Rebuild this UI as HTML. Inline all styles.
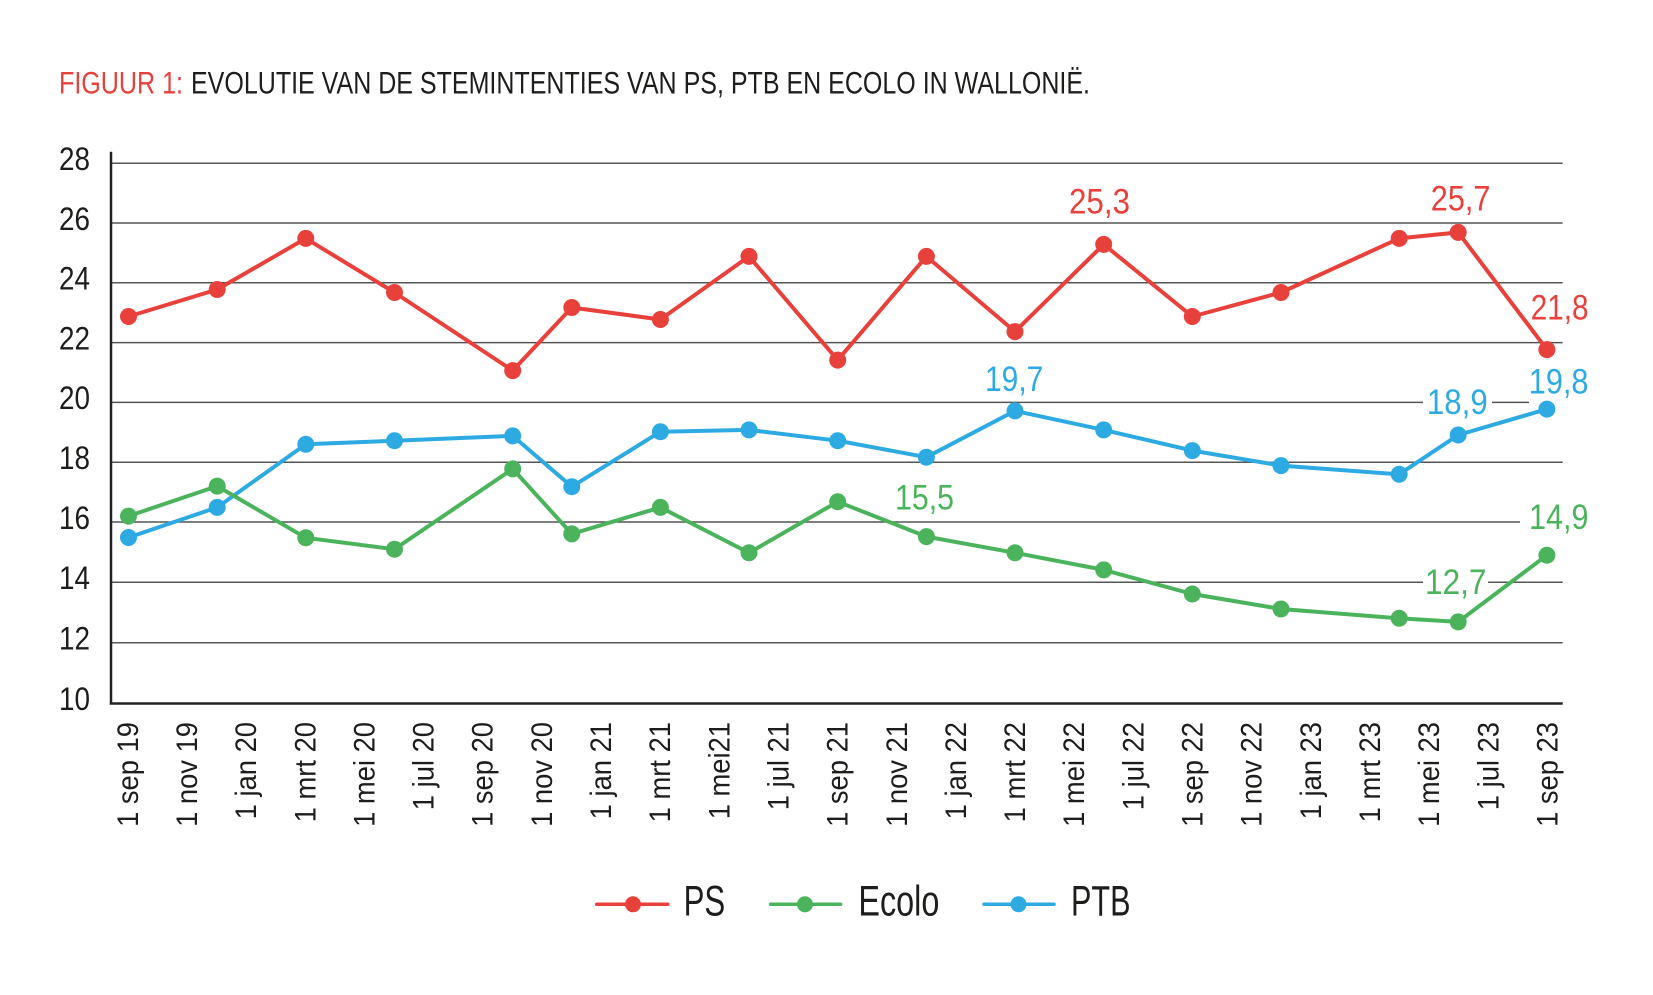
<!DOCTYPE html>
<html>
<head>
<meta charset="utf-8">
<style>
html,body{margin:0;padding:0;background:#fff;}
svg{display:block;}
text{font-family:"Liberation Sans",sans-serif;}
</style>
</head>
<body>
<svg width="1653" height="995" viewBox="0 0 1653 995" xmlns="http://www.w3.org/2000/svg">
<rect x="0" y="0" width="1653" height="995" fill="#fff"/>

<!-- Title -->
<text x="59" y="93.3" font-size="31.7" fill="#E8413B" textLength="124" lengthAdjust="spacingAndGlyphs">FIGUUR 1:</text>
<text x="191" y="93.3" font-size="31.7" fill="#1d1d1b" textLength="899" lengthAdjust="spacingAndGlyphs">EVOLUTIE VAN DE STEMINTENTIES VAN PS, PTB EN ECOLO IN WALLONIË.</text>

<!-- Gridlines -->
<g stroke="#555" stroke-width="1.5" fill="none">
<line x1="111" y1="163.3" x2="1562.7" y2="163.3"/>
<line x1="111" y1="223" x2="1562.7" y2="223"/>
<line x1="111" y1="282.8" x2="1562.7" y2="282.8"/>
<line x1="111" y1="342.6" x2="1562.7" y2="342.6"/>
<line x1="111" y1="402.4" x2="1423" y2="402.4"/>
<line x1="1492" y1="402.4" x2="1529" y2="402.4"/>
<line x1="111" y1="462.2" x2="1562.7" y2="462.2"/>
<line x1="111" y1="522" x2="1520" y2="522"/>
<line x1="111" y1="582.2" x2="1423" y2="582.2"/>
<line x1="1488" y1="582.2" x2="1562.7" y2="582.2"/>
<line x1="111" y1="642.7" x2="1562.7" y2="642.7"/>
</g>

<!-- Axes -->
<line x1="111" y1="151.7" x2="111" y2="704.5" stroke="#222" stroke-width="2.5"/>
<line x1="109.8" y1="703.5" x2="1562.7" y2="703.5" stroke="#222" stroke-width="2.5"/>

<!-- Y tick labels -->
<g font-size="32.5" fill="#1d1d1b" text-anchor="end">
<text x="90" y="170.1" textLength="31" lengthAdjust="spacingAndGlyphs">28</text>
<text x="90" y="229.8" textLength="31" lengthAdjust="spacingAndGlyphs">26</text>
<text x="90" y="289.6" textLength="31" lengthAdjust="spacingAndGlyphs">24</text>
<text x="90" y="349.4" textLength="31" lengthAdjust="spacingAndGlyphs">22</text>
<text x="90" y="409.2" textLength="31" lengthAdjust="spacingAndGlyphs">20</text>
<text x="90" y="469" textLength="31" lengthAdjust="spacingAndGlyphs">18</text>
<text x="90" y="528.8" textLength="31" lengthAdjust="spacingAndGlyphs">16</text>
<text x="90" y="589" textLength="31" lengthAdjust="spacingAndGlyphs">14</text>
<text x="90" y="649.5" textLength="31" lengthAdjust="spacingAndGlyphs">12</text>
<text x="90" y="710" textLength="31" lengthAdjust="spacingAndGlyphs">10</text>
</g>

<!-- X tick labels -->
<g font-size="29.3" fill="#1d1d1b" text-anchor="end">
<text transform="translate(137.8,722) rotate(-90) scale(0.934,1)">1 sep 19</text>
<text transform="translate(197.0,722) rotate(-90) scale(0.934,1)">1 nov 19</text>
<text transform="translate(256.1,722) rotate(-90) scale(0.934,1)">1 jan 20</text>
<text transform="translate(315.3,722) rotate(-90) scale(0.934,1)">1 mrt 20</text>
<text transform="translate(374.4,722) rotate(-90) scale(0.934,1)">1 mei 20</text>
<text transform="translate(433.6,722) rotate(-90) scale(0.934,1)">1 jul 20</text>
<text transform="translate(492.7,722) rotate(-90) scale(0.934,1)">1 sep 20</text>
<text transform="translate(551.9,722) rotate(-90) scale(0.934,1)">1 nov 20</text>
<text transform="translate(611.0,722) rotate(-90) scale(0.934,1)">1 jan 21</text>
<text transform="translate(670.2,722) rotate(-90) scale(0.934,1)">1 mrt 21</text>
<text transform="translate(729.3,722) rotate(-90) scale(0.934,1)">1 mei21</text>
<text transform="translate(788.5,722) rotate(-90) scale(0.934,1)">1 jul 21</text>
<text transform="translate(847.6,722) rotate(-90) scale(0.934,1)">1 sep 21</text>
<text transform="translate(906.8,722) rotate(-90) scale(0.934,1)">1 nov 21</text>
<text transform="translate(965.9,722) rotate(-90) scale(0.934,1)">1 jan 22</text>
<text transform="translate(1025.1,722) rotate(-90) scale(0.934,1)">1 mrt 22</text>
<text transform="translate(1084.2,722) rotate(-90) scale(0.934,1)">1 mei 22</text>
<text transform="translate(1143.4,722) rotate(-90) scale(0.934,1)">1 jul 22</text>
<text transform="translate(1202.5,722) rotate(-90) scale(0.934,1)">1 sep 22</text>
<text transform="translate(1261.7,722) rotate(-90) scale(0.934,1)">1 nov 22</text>
<text transform="translate(1320.8,722) rotate(-90) scale(0.934,1)">1 jan 23</text>
<text transform="translate(1380.0,722) rotate(-90) scale(0.934,1)">1 mrt 23</text>
<text transform="translate(1439.1,722) rotate(-90) scale(0.934,1)">1 mei 23</text>
<text transform="translate(1498.3,722) rotate(-90) scale(0.934,1)">1 jul 23</text>
<text transform="translate(1557.4,722) rotate(-90) scale(0.934,1)">1 sep 23</text>
</g>

<!-- Series: PTB (blue) -->
<polyline fill="none" stroke="#2EAAE2" stroke-width="4" stroke-linejoin="round"
points="128.5,537.5 217.2,507.4 305.8,444.3 394.5,440.7 512.7,435.9 571.8,486.7 660.4,431.7 749.0,429.9 837.7,440.7 926.4,457.2 1015.0,410.9 1103.7,429.9 1192.3,450.6 1281.0,465.6 1399.2,474.3 1458.2,435.0 1546.9,409.1"/>
<g fill="#2EAAE2">
<circle cx="128.5" cy="537.5" r="8.5"/><circle cx="217.2" cy="507.4" r="8.5"/><circle cx="305.8" cy="444.3" r="8.5"/><circle cx="394.5" cy="440.7" r="8.5"/><circle cx="512.7" cy="435.9" r="8.5"/><circle cx="571.8" cy="486.7" r="8.5"/><circle cx="660.4" cy="431.7" r="8.5"/><circle cx="749.0" cy="429.9" r="8.5"/><circle cx="837.7" cy="440.7" r="8.5"/><circle cx="926.4" cy="457.2" r="8.5"/><circle cx="1015.0" cy="410.9" r="8.5"/><circle cx="1103.7" cy="429.9" r="8.5"/><circle cx="1192.3" cy="450.6" r="8.5"/><circle cx="1281.0" cy="465.6" r="8.5"/><circle cx="1399.2" cy="474.3" r="8.5"/><circle cx="1458.2" cy="435.0" r="8.5"/><circle cx="1546.9" cy="409.1" r="8.5"/>
</g>

<!-- Series: Ecolo (green) -->
<polyline fill="none" stroke="#4BB35C" stroke-width="4" stroke-linejoin="round"
points="128.5,516.1 217.2,486.1 305.8,537.8 394.5,549.2 512.7,468.9 571.8,533.9 660.4,507.4 749.0,552.8 837.7,501.7 926.4,536.6 1015.0,552.8 1103.7,569.9 1192.3,594.0 1281.0,609.0 1399.2,618.3 1458.2,621.9 1546.9,555.2"/>
<g fill="#4BB35C">
<circle cx="128.5" cy="516.1" r="8.5"/><circle cx="217.2" cy="486.1" r="8.5"/><circle cx="305.8" cy="537.8" r="8.5"/><circle cx="394.5" cy="549.2" r="8.5"/><circle cx="512.7" cy="468.9" r="8.5"/><circle cx="571.8" cy="533.9" r="8.5"/><circle cx="660.4" cy="507.4" r="8.5"/><circle cx="749.0" cy="552.8" r="8.5"/><circle cx="837.7" cy="501.7" r="8.5"/><circle cx="926.4" cy="536.6" r="8.5"/><circle cx="1015.0" cy="552.8" r="8.5"/><circle cx="1103.7" cy="569.9" r="8.5"/><circle cx="1192.3" cy="594.0" r="8.5"/><circle cx="1281.0" cy="609.0" r="8.5"/><circle cx="1399.2" cy="618.3" r="8.5"/><circle cx="1458.2" cy="621.9" r="8.5"/><circle cx="1546.9" cy="555.2" r="8.5"/>
</g>

<!-- Series: PS (red) -->
<polyline fill="none" stroke="#E8413B" stroke-width="4" stroke-linejoin="round"
points="128.5,316.5 217.2,289.5 305.8,238.4 394.5,292.5 512.7,370.6 571.8,307.5 660.4,319.5 749.0,256.4 837.7,360.1 926.4,256.4 1015.0,331.6 1103.7,244.4 1192.3,316.5 1281.0,292.5 1399.2,238.4 1458.2,232.4 1546.9,349.6"/>
<g fill="#E8413B">
<circle cx="128.5" cy="316.5" r="8.5"/><circle cx="217.2" cy="289.5" r="8.5"/><circle cx="305.8" cy="238.4" r="8.5"/><circle cx="394.5" cy="292.5" r="8.5"/><circle cx="512.7" cy="370.6" r="8.5"/><circle cx="571.8" cy="307.5" r="8.5"/><circle cx="660.4" cy="319.5" r="8.5"/><circle cx="749.0" cy="256.4" r="8.5"/><circle cx="837.7" cy="360.1" r="8.5"/><circle cx="926.4" cy="256.4" r="8.5"/><circle cx="1015.0" cy="331.6" r="8.5"/><circle cx="1103.7" cy="244.4" r="8.5"/><circle cx="1192.3" cy="316.5" r="8.5"/><circle cx="1281.0" cy="292.5" r="8.5"/><circle cx="1399.2" cy="238.4" r="8.5"/><circle cx="1458.2" cy="232.4" r="8.5"/><circle cx="1546.9" cy="349.6" r="8.5"/>
</g>

<!-- Value annotations -->
<g font-size="35">
<text x="1069" y="213.3" fill="#E8413B" textLength="61" lengthAdjust="spacingAndGlyphs">25,3</text>
<text x="1430.8" y="210.7" fill="#E8413B" textLength="59.6" lengthAdjust="spacingAndGlyphs">25,7</text>
<text x="1530.8" y="319.3" fill="#E8413B" textLength="57.7" lengthAdjust="spacingAndGlyphs">21,8</text>
<text x="1528.8" y="393.3" fill="#2EAAE2" textLength="59.7" lengthAdjust="spacingAndGlyphs">19,8</text>
<text x="1426.9" y="414" fill="#2EAAE2" textLength="60.8" lengthAdjust="spacingAndGlyphs">18,9</text>
<text x="985" y="391" fill="#2EAAE2" textLength="58.3" lengthAdjust="spacingAndGlyphs">19,7</text>
<text x="895" y="509.3" fill="#4BB35C" textLength="59" lengthAdjust="spacingAndGlyphs">15,5</text>
<text x="1425" y="594" fill="#4BB35C" textLength="61.5" lengthAdjust="spacingAndGlyphs">12,7</text>
<text x="1529" y="529" fill="#4BB35C" textLength="59.5" lengthAdjust="spacingAndGlyphs">14,9</text>
</g>

<!-- Legend -->
<g stroke-width="3.5" stroke-linecap="round">
<line x1="596.7" y1="904.3" x2="667.8" y2="904.3" stroke="#E8413B"/>
<line x1="770.6" y1="904.3" x2="840.6" y2="904.3" stroke="#4BB35C"/>
<line x1="984" y1="904.3" x2="1054" y2="904.3" stroke="#2EAAE2"/>
</g>
<circle cx="633" cy="904.3" r="8" fill="#E8413B"/>
<circle cx="805" cy="904.3" r="8" fill="#4BB35C"/>
<circle cx="1018.5" cy="904.3" r="8" fill="#2EAAE2"/>
<g font-size="43" fill="#1d1d1b">
<text x="683.6" y="915.7" textLength="41.6" lengthAdjust="spacingAndGlyphs">PS</text>
<text x="858.4" y="915.7" textLength="81" lengthAdjust="spacingAndGlyphs">Ecolo</text>
<text x="1071" y="915.7" textLength="59.5" lengthAdjust="spacingAndGlyphs">PTB</text>
</g>
</svg>
</body>
</html>
